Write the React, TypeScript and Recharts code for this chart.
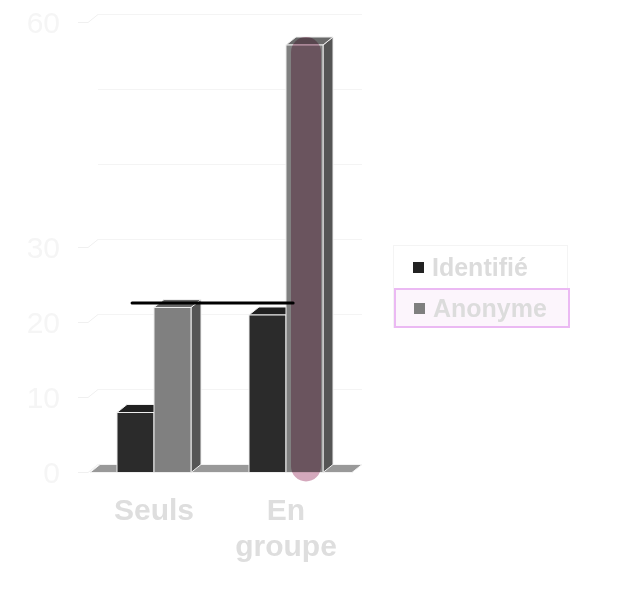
import React from 'react';
import { BarChart, Bar, XAxis, YAxis, CartesianGrid, ReferenceLine, Legend } from 'recharts';

const categories = ['Seuls', 'En groupe'];
const identifie = [8, 21];
const anonyme = [22, 57];
const yTicks = [0, 10, 20, 30, 40, 50, 60];
const yTickLabels = ['0', '10', '20', '30', '', '', '60'];
const referenceValue = 22.6;
// start / end of the black reference segment, as a fraction of the plot width
const referenceSpan = [0.167, 0.777];
const highlightCategory = 'En groupe';
const highlightSeries = 'Anonyme';

const series = [
  { key: 'Identifié', front: '#2b2b2b', top: '#202020', side: '#1c1c1c', marker: '#222222' },
  { key: 'Anonyme', front: '#808080', top: '#6a6a6a', side: '#555555', marker: '#7f7f7f' },
];

const data = categories.map((c, i) => ({ name: c, 'Identifié': identifie[i], Anonyme: anonyme[i] }));

const FONT = '"Liberation Sans", Arial, sans-serif';
const DX = 10;
const DY = 8;

const make3DShape = (s: any) => (props: any) => {
  const { x, y, width: w, height: h, payload } = props;
  if (w == null || h == null) return <g />;
  const hl = s.key === highlightSeries && payload && payload.name === highlightCategory;
  const edge = '#eeeeee';
  return (
    <g>
      <polygon
        points={`${x + w},${y} ${x + w + DX},${y - DY} ${x + w + DX},${y + h - DY} ${x + w},${y + h}`}
        fill={s.side}
        stroke={edge}
        strokeWidth={1}
      />
      <polygon
        points={`${x},${y} ${x + DX},${y - DY} ${x + w + DX},${y - DY} ${x + w},${y}`}
        fill={s.top}
        stroke={edge}
        strokeWidth={1}
      />
      <rect x={x} y={y} width={w} height={h} fill={s.front} stroke={edge} strokeWidth={1} />
      {hl && (
        <rect
          x={x + 5}
          y={y - 8}
          width={w - 7}
          height={h + 17}
          rx={15}
          ry={15}
          fill="#d4a8bc"
          style={{ mixBlendMode: 'multiply' }}
        />
      )}
    </g>
  );
};

const backLine = (props: any) => {
  const { x1, x2, y1, index } = props;
  return (
    <line
      key={`b${index}`}
      x1={x1 + DX}
      y1={y1 - DY}
      x2={x2 + DX}
      y2={y1 - DY}
      stroke="#f4f4f4"
      strokeWidth={1}
    />
  );
};

const floorShape = (props: any) => {
  const { x1, x2, y1, index } = props;
  return (
    <polygon
      key={`f${index}`}
      points={`${x1 + 2},${y1} ${x1 + 2 + DX},${y1 - DY} ${x2 + DX},${y1 - DY} ${x2},${y1}`}
      fill="#999999"
      stroke="#f2f2f2"
      strokeWidth={1}
    />
  );
};

const YTick = (props: any) => {
  const { x, y, payload } = props;
  const idx = yTicks.indexOf(payload.value);
  const label = idx >= 0 ? yTickLabels[idx] : '';
  return (
    <g>
      {label !== '' && (
        <path d={`M${x + 18},${y} L${x + 28},${y} L${x + 38},${y - DY}`} stroke="#f0f0f0" fill="none" />
      )}
      <text x={x} y={y} dy="0.36em" textAnchor="end" fontSize={30} fill="#f5f5f5" fontFamily={FONT}>
        {label}
      </text>
    </g>
  );
};

const XTick = (props: any) => {
  const { x, y, payload } = props;
  const words = String(payload.value).split(' ');
  return (
    <text x={x} y={y} textAnchor="middle" fill="#dedede" fontSize={30} fontWeight="bold" fontFamily={FONT}>
      {words.map((w, i) => (
        <tspan key={i} x={x} dy={i === 0 ? 45.5 : 36}>
          {w}
        </tspan>
      ))}
    </text>
  );
};

const renderLegend = () => {
  return (
    <div
      style={{
        border: '1px solid #f4f4f4',
        boxSizing: 'border-box',
        width: 175,
        fontFamily: FONT,
        fontWeight: 'bold',
        fontSize: 25,
        color: '#dcdcdc',
      }}
    >
      {series.map((s) => {
        const hl = s.key === highlightSeries;
        return (
          <div
            key={s.key}
            style={{
              display: 'flex',
              alignItems: 'center',
              boxSizing: 'border-box',
              height: hl ? 40 : 42,
              paddingLeft: hl ? 18 : 19,
              border: hl ? '2px solid #ebb9f3' : 'none',
              background: hl ? '#fcf5fc' : 'transparent',
              marginRight: hl ? -3 : 0,
              marginBottom: hl ? -1 : 0,
            }}
          >
            <span
              style={{ display: 'inline-block', width: 11, height: 11, background: s.marker, marginRight: 8 }}
            />
            <span>{s.key}</span>
          </div>
        );
      })}
    </div>
  );
};

export default function App() {
  return (
    <div style={{ position: 'absolute', left: 0, top: 0, width: 630, height: 600, background: '#ffffff' }}>
      <BarChart
        width={630}
        height={600}
        data={data}
        margin={{ top: 22.5, right: 278, bottom: 67.5, left: 0 }}
        barGap={0}
        barSize={37}
      >
        <CartesianGrid vertical={false} horizontal={backLine} />
        <CartesianGrid
          vertical={false}
          horizontal={floorShape}
          horizontalCoordinatesGenerator={(p: any) => [p.offset.top + p.offset.height]}
        />
        <XAxis
          dataKey="name"
          tick={<XTick />}
          tickLine={false}
          axisLine={false}
          tickSize={0}
          height={60}
          interval={0}
        />
        <XAxis xAxisId="n" type="number" domain={[0, 1]} hide allowDataOverflow />
        <YAxis
          domain={[0, 60]}
          ticks={yTicks}
          tick={<YTick />}
          tickLine={false}
          axisLine={false}
          tickSize={0}
          tickMargin={28}
          width={88}
          interval={0}
        />
        {series.map((s) => (
          <Bar key={s.key} dataKey={s.key} fill={s.marker} shape={make3DShape(s)} isAnimationActive={false} />
        ))}
        <ReferenceLine
          xAxisId="n"
          segment={[
            { x: referenceSpan[0], y: referenceValue },
            { x: referenceSpan[1], y: referenceValue },
          ]}
          stroke="#000000"
          strokeWidth={3}
          strokeLinecap="round"
          ifOverflow="visible"
        />
        <Legend
          layout="vertical"
          align="center"
          verticalAlign="middle"
          content={renderLegend}
          wrapperStyle={{ left: 393, top: 245, width: 178 }}
        />
      </BarChart>
    </div>
  );
}
